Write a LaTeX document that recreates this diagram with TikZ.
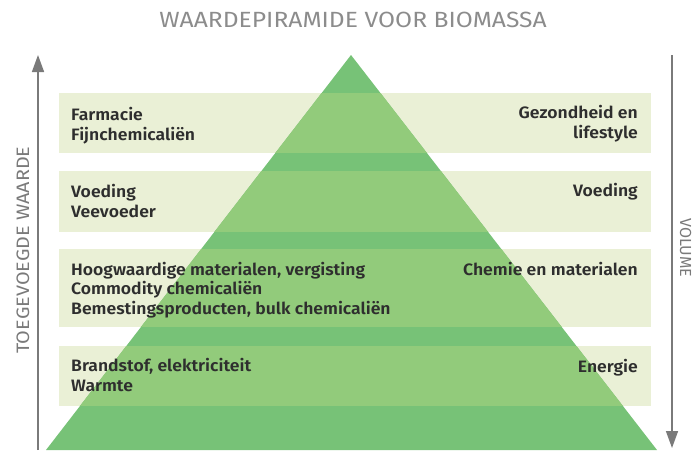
\documentclass[tikz,border=0pt]{standalone}
\usepackage{fontspec}
\setmainfont{Fira Sans}[BoldFont=* SemiBold]
\usetikzlibrary{arrows.meta}
\definecolor{beige}{HTML}{EAF0D6}
\definecolor{pyrdark}{HTML}{77C277}
\definecolor{pyrlight}{HTML}{92CB7B}
\definecolor{axisgray}{HTML}{7A7A7A}
\definecolor{titlegray}{HTML}{8C8C8C}
\definecolor{txt}{HTML}{2E2E2E}
\tikzset{
  lbl/.style={inner sep=0pt, text=txt, xscale=1.065, font={\bfseries\fontsize{16.5}{19.5}\selectfont}},
  lblL/.style={lbl, anchor=base west, align=left},
  lblR/.style={lbl, anchor=base east, align=right},
  axis/.style={draw=axisgray, line width=1.5pt, -{Triangle[length=17pt,width=12pt]}},
  axislbl/.style={inner sep=0pt, text=axisgray},
}
\begin{document}
\begin{tikzpicture}[x=1pt,y=-1pt]
\useasboundingbox (0,0) rectangle (692,450);
% bands
\foreach \a/\b in {93/153,171/232,249/327,346/406}
  \fill[beige] (59,\a) rectangle (651,\b);
% pyramid
\fill[pyrdark] (351,55) -- (657,450) -- (46,450) -- cycle;
\begin{scope}
  \clip (351,55) -- (657,450) -- (46,450) -- cycle;
  \foreach \a/\b in {93/153,171/232,249/327,346/406}
    \fill[pyrlight] (59,\a) rectangle (651,\b);
\end{scope}
% title
\node[inner sep=0pt, anchor=base, text=titlegray, xscale=1.12, font={\fontsize{22}{24}\selectfont}] (title) at (353,27.7) {WAARDEPIRAMIDE VOOR BIOMASSA};
% axes
\coordinate (ltail) at (38,450);
\coordinate (ltip) at (38,55);
\coordinate (rtail) at (672,55);
\coordinate (rtip) at (672,448);
\draw[axis] (ltail) -- (ltip);
\draw[axis] (rtail) -- (rtip);
\node[axislbl, rotate=90, xscale=1.1, font={\fontsize{18}{20}\selectfont}] (waarde) at (23,250) {TOEGEVOEGDE WAARDE};
\node[axislbl, rotate=-90, font={\fontsize{16}{20}\selectfont}] (volume) at (685.5,248) {VOLUME};
% left labels (base anchor = last line)
\node[lblL] (l1) at (71,140) {Farmacie\\Fijnchemicaliën};
\node[lblL] (l2) at (71,217) {Voeding\\Veevoeder};
\node[lblL] (l3) at (71,314) {Hoogwaardige materialen, vergisting\\Commodity chemicaliën\\Bemestingsproducten, bulk chemicaliën};
\node[lblL] (l4) at (71,391) {Brandstof, elektriciteit\\Warmte};
% right labels
\node[lblR] (r1) at (638,138) {Gezondheid en\\lifestyle};
\node[lblR] (r2) at (638,196) {Voeding};
\node[lblR] (r3) at (638,275) {Chemie en materialen};
\node[lblR] (r4) at (638,372) {Energie};
\end{tikzpicture}
\end{document}
